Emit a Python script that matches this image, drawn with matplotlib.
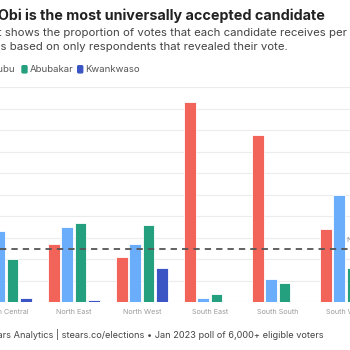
import matplotlib
matplotlib.use("Agg")
import numpy as np
import matplotlib.pyplot as plt
from matplotlib.patches import FancyBboxPatch

# region values (share of revealed votes, %)
regions = ["North Central", "North East", "North West", "South East", "South South", "South West"]
obi = [40, 27, 21, 93, 78, 34]
tinubu = [33, 35, 27, 2, 11, 50]
abubakar = [20, 37, 36, 4, 9, 16]
kwankwaso = [2, 1, 16, 0, 0, 1]
nigeria_avg = 25

candidates = ["Obi", "Tinubu", "Abubakar", "Kwankwaso"]
colors = ["#F2635A", "#6AADFB", "#24A07F", "#3B56C4"]

plt.rcParams["font.family"] = ["Inter", "DejaVu Sans"]

W, H = 350, 350
fig = plt.figure(figsize=(W / 100, H / 100), dpi=100)


def fx(x):
    return x / W


def fy(y):
    return 1 - y / H


# axes spills past the figure edges like the cropped original
ax = fig.add_axes([0, fy(302.3), 1, fy(87.3) - fy(302.3)])
x = np.arange(len(regions))
step = 0.1985
width = 0.175
for i, (vals, c) in enumerate(zip([obi, tinubu, abubakar, kwankwaso], colors)):
    ax.bar(x + (i - 1.5) * step, vals, width, color=c, edgecolor="#ffffff",
           linewidth=0.6, zorder=2)

ax.axhline(nigeria_avg, color="#555555", lw=1.3, ls=(0, (3.5, 2.8)), zorder=3)
ax.text(5.005, nigeria_avg + 2.5, "Nigeria", color="#888888", fontsize=5.3,
        va="bottom", ha="left", zorder=4)

ax.set_xlim((0 - 5.8) / 68, (W - 5.8) / 68)
ax.set_ylim(0, 100)
ax.set_yticks(np.arange(0, 101, 10))
ax.set_yticklabels([])
ax.grid(axis="y", color="#ececec", lw=0.8, zorder=0)
ax.set_xticks(x)
ax.set_xticklabels(regions, color="#9a9a9a", fontsize=5.2)
ax.tick_params(length=0, pad=5)
for s in ax.spines.values():
    s.set_visible(False)

# header
fig.text(fx(325), fy(15.7), "Peter Obi is the most universally accepted candidate",
         ha="right", va="center", fontsize=10.3, fontweight="bold", color="#222222")
fig.text(fx(346.7), fy(33.3),
         "This chart shows the proportion of votes that each candidate receives per",
         ha="right", va="center", fontsize=8.2, color="#444444")
fig.text(fx(288), fy(46.7),
         "region. It is based on only respondents that revealed their vote.",
         ha="right", va="center", fontsize=8.2, color="#444444")

# legend
leg_y = 69.3
fig.text(fx(15), fy(leg_y), "Tinubu", ha="right", va="center", fontsize=6.9, color="#555555")
for sq_x, label, c in [(22, "Abubakar", colors[2]), (77.7, "Kwankwaso", colors[3])]:
    fig.patches.append(FancyBboxPatch((fx(sq_x), fy(leg_y + 3.6)), fx(5), 7.2 / H,
                                      boxstyle="round,pad=0,rounding_size=0.003",
                                      transform=fig.transFigure, color=c))
    fig.text(fx(sq_x + 7.3), fy(leg_y), label, ha="left", va="center",
             fontsize=6.9, color="#555555")

# footer
fig.text(fx(323.3), fy(335),
         "Source: Stears Analytics | stears.co/elections \u2022 Jan 2023 poll of 6,000+ eligible voters",
         ha="right", va="center", fontsize=6.6, color="#444444")

fig.savefig("out.png", dpi=100)
